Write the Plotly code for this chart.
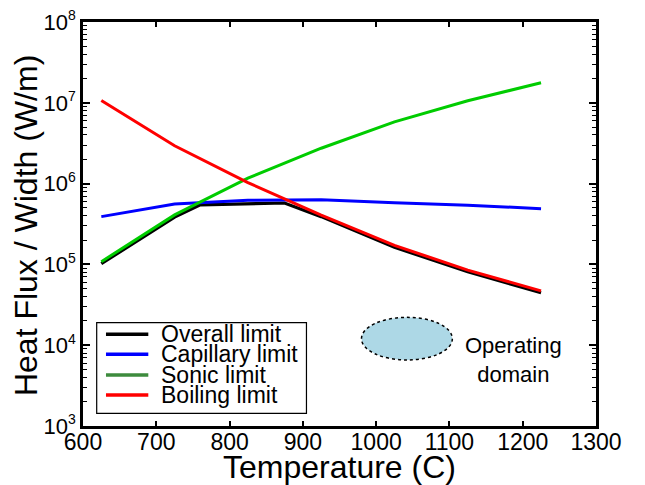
import plotly.graph_objects as go

# ---- data ----
temps = [625, 725, 825, 925, 1025, 1125, 1225]
capillary = [3.9e5, 5.6e5, 6.2e5, 6.3e5, 5.8e5, 5.4e5, 4.9e5]
sonic = [1.08e5, 4.1e5, 1.17e6, 2.74e6, 5.8e6, 1.06e7, 1.77e7]
boiling = [1.07e7, 2.94e6, 1.03e6, 4.08e5, 1.72e5, 8.5e4, 4.7e4]
overall_temps = [625, 725, 760, 875, 925, 1025, 1125, 1225]
overall = [1.02e5, 3.85e5, 5.45e5, 5.75e5, 3.9e5, 1.63e5, 8.1e4, 4.45e4]

legend_labels = ["Overall limit", "Capillary limit", "Sonic limit", "Boiling limit"]
legend_colors = ["#000000", "#0000ff", "#3d8b3d", "#ff0000"]
line_colors = {"overall": "#000000", "capillary": "#0000ff", "sonic": "#00cc00", "boiling": "#ff0000"}

x_ticks = [600, 700, 800, 900, 1000, 1100, 1200, 1300]
y_exponents = [3, 4, 5, 6, 7, 8]
domain_x = [980, 1104]
domain_y = [6.56e3, 2.21e4]

FONT = "Liberation Sans, Arial, Helvetica, sans-serif"

fig = go.Figure()
fig.add_trace(go.Scatter(x=overall_temps, y=overall, mode="lines",
                         line=dict(color=line_colors["overall"], width=3.2), showlegend=False))
fig.add_trace(go.Scatter(x=temps, y=capillary, mode="lines",
                         line=dict(color=line_colors["capillary"], width=3), showlegend=False))
fig.add_trace(go.Scatter(x=temps, y=sonic, mode="lines",
                         line=dict(color=line_colors["sonic"], width=3), showlegend=False))
fig.add_trace(go.Scatter(x=temps, y=boiling, mode="lines",
                         line=dict(color=line_colors["boiling"], width=3), showlegend=False))

# operating domain ellipse
fig.add_shape(type="circle", xref="x", yref="y",
              x0=domain_x[0], x1=domain_x[1], y0=domain_y[0], y1=domain_y[1],
              fillcolor="#add8e6", line=dict(color="black", width=1.5, dash="dot"), layer="above")
fig.add_annotation(x=1187, y=3.817, xref="x", yref="y", text="Operating<br>domain",
                   showarrow=False, font=dict(size=22, color="black", family=FONT),
                   xanchor="center", yanchor="middle")

# legend (drawn as a box with line swatches and labels)
box = dict(x0=0.0267, x1=0.4356, y0=0.0314, y1=0.2557)
fig.add_shape(type="rect", xref="paper", yref="paper", **box,
              line=dict(color="black", width=1.2), fillcolor="white", layer="above")
row_y = [0.227, 0.1775, 0.126, 0.0767]
for lab, col, yy in zip(legend_labels, legend_colors, row_y):
    fig.add_shape(type="line", xref="paper", yref="paper", x0=0.0448, x1=0.1273, y0=yy, y1=yy,
                  line=dict(color=col, width=3.5), layer="above")
    fig.add_annotation(x=0.1487, y=yy, xref="paper", yref="paper", text=lab, showarrow=False,
                       xanchor="left", yanchor="middle",
                       font=dict(size=23, color="black", family=FONT))

# y-axis title
fig.add_annotation(x=-0.111, y=0.495, xref="paper", yref="paper", text="Heat Flux / Width (W/m)",
                   textangle=-90, showarrow=False, xanchor="center", yanchor="middle",
                   font=dict(size=32, color="black", family=FONT))

fig.update_layout(
    width=645, height=485,
    margin=dict(l=83, r=49, t=22, b=59),
    paper_bgcolor="white", plot_bgcolor="white",
    font=dict(family=FONT, color="black"),
    showlegend=False,
)
fig.update_xaxes(
    range=[600, 1300], tickvals=x_ticks, ticktext=[str(v) for v in x_ticks],
    ticks="inside", ticklen=5, tickwidth=1.5, tickcolor="black",
    showline=True, linewidth=2.5, linecolor="black", mirror="ticks",
    showgrid=False, zeroline=False, ticklabelstandoff=-6,
    tickfont=dict(size=23, family=FONT, color="black"),
    title=dict(text="Temperature (C)", font=dict(size=32, family=FONT, color="black"), standoff=0),
    automargin=False,
)
fig.update_yaxes(
    type="log", range=[3, 8],
    tickvals=[10 ** e for e in y_exponents],
    ticktext=["10<sup><span style='font-size:14px'>%d</span></sup>" % e for e in y_exponents],
    ticks="inside", ticklen=7, tickwidth=1.5, tickcolor="black",
    minor=dict(ticks="inside", ticklen=4, tickwidth=1, tickcolor="black", dtick="D1", showgrid=False),
    showline=True, linewidth=2.5, linecolor="black", mirror="ticks",
    showgrid=False, zeroline=False,
    tickfont=dict(size=22, family=FONT, color="black"),
    automargin=False,
)

fig.write_html("out.html")
